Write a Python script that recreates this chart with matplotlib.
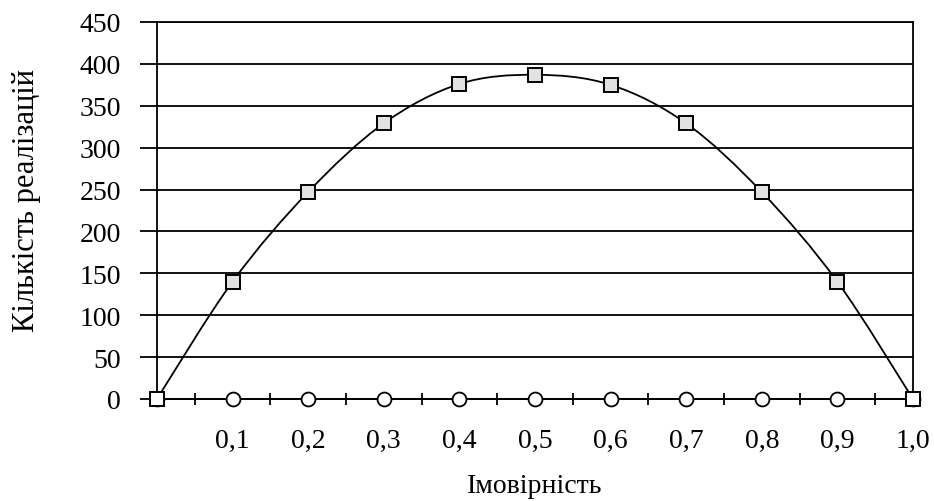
import numpy as np
import matplotlib
matplotlib.use("Agg")
import matplotlib.pyplot as plt
from matplotlib.path import Path
from matplotlib.patches import PathPatch

# Data
probability = [0.0, 0.1, 0.2, 0.3, 0.4, 0.5, 0.6, 0.7, 0.8, 0.9, 1.0]
realizations = [0, 140, 247, 329, 376, 387, 375, 329, 247, 140, 0]
zero_series = [0, 0, 0, 0, 0, 0, 0, 0, 0, 0, 0]
x_tick_labels = ["0,1", "0,2", "0,3", "0,4", "0,5", "0,6", "0,7", "0,8", "0,9", "1,0"]
x_label_positions = [0.1, 0.2, 0.3, 0.4, 0.5, 0.6, 0.7, 0.8, 0.9, 1.0]
x_minor_ticks = [0.05, 0.15, 0.25, 0.35, 0.45, 0.55, 0.65, 0.75, 0.85, 0.95]
y_ticks = [0, 50, 100, 150, 200, 250, 300, 350, 400, 450]

plt.rcParams['font.family'] = ['Liberation Serif', 'DejaVu Serif']

fig = plt.figure(figsize=(9.34, 5.02), dpi=100)
ax = fig.add_axes([0.168, 0.2032, 0.8095, 0.751])
ax.set_xlim(0, 1.0)
ax.set_ylim(0, 450)

# horizontal gridlines
for yv in y_ticks[1:]:
    ax.axhline(yv, color='black', lw=1.3, zorder=1)

# smooth curve (Catmull-Rom style Bezier through the points)
pts = np.column_stack([probability, realizations]).astype(float)
n = len(pts)
verts = [pts[0]]
codes = [Path.MOVETO]
for i in range(n - 1):
    p0 = pts[i - 1] if i > 0 else pts[i]
    p1 = pts[i]
    p2 = pts[i + 1]
    p3 = pts[i + 2] if i + 2 < n else pts[i + 1]
    c1 = p1 + (p2 - p0) / 6.0
    c2 = p2 - (p3 - p1) / 6.0
    verts += [c1, c2, p2]
    codes += [Path.CURVE4, Path.CURVE4, Path.CURVE4]
patch = PathPatch(Path(verts, codes), facecolor='none', edgecolor='black',
                  lw=1.3, transform=ax.transData, zorder=3)
ax.add_patch(patch)

# zero series with circles
ax.plot(probability, zero_series, color='black', lw=1.3, marker='o',
        markersize=10, markerfacecolor='white', markeredgecolor='black',
        markeredgewidth=1.3, zorder=4, clip_on=False)

# squares
face = ['white'] + ['#e2e2e2'] * (n - 2) + ['white']
for xv, yv, fc in zip(probability, realizations, face):
    ax.plot([xv], [yv], marker='s', markersize=10.5, markerfacecolor=fc,
            markeredgecolor='black', markeredgewidth=1.4, zorder=5,
            clip_on=False, linestyle='none')

# spines
for s in ['left', 'right', 'top', 'bottom']:
    ax.spines[s].set_color('black')
    ax.spines[s].set_linewidth(1.3)

# ticks
ax.set_yticks(y_ticks)
ax.set_yticklabels([str(v) for v in y_ticks])
ax.tick_params(axis='y', direction='out', length=12, width=1.3, pad=14,
               labelsize=20)
ax.set_xticks(x_minor_ticks)
ax.set_xticklabels([''] * len(x_minor_ticks))
ax.tick_params(axis='x', which='major', direction='inout', length=9, width=1.3)
ax.set_xticks(x_label_positions, minor=True)
ax.set_xticklabels(x_tick_labels, minor=True)
ax.tick_params(axis='x', which='minor', length=0, pad=21, labelsize=20)

ax.set_xlabel('Імовірність', fontsize=20, labelpad=14)
ax.set_ylabel('Кількість реалізацій', fontsize=22)
ax.yaxis.set_label_coords(-0.153, 0.53)

fig.savefig('out.png', dpi=100)
